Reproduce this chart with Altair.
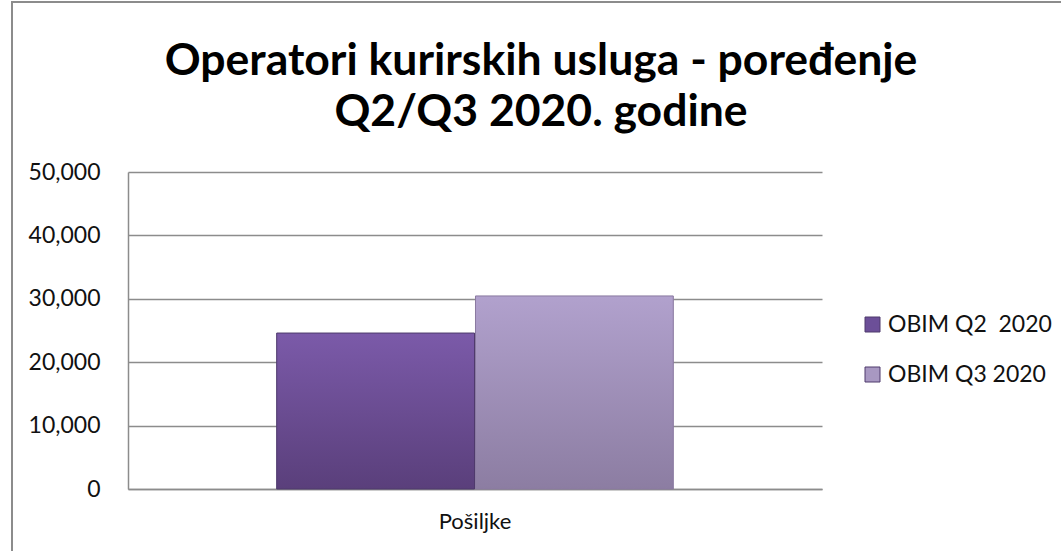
import altair as alt
import pandas as pd

title_lines = ["Operatori kurirskih usluga - poređenje", "Q2/Q3 2020. godine"]
categories = ["Pošiljke", "Pošiljke"]
series = ["OBIM Q2\u00a0 2020", "OBIM Q3 2020"]
values = [24600, 30450]
colors = ["#6c4f98", "#a898c2"]

df = pd.DataFrame({"cat": categories, "series": series, "value": values})

W, H = 694, 317
FONT = "Lato"

xscale = alt.Scale(paddingInner=0, paddingOuter=0.375)
xoscale = alt.Scale(domain=series, paddingInner=0.005)

x_enc = alt.X("cat:N", title=None, scale=xscale,
              axis=alt.Axis(labelAngle=0, labelFontSize=22, labelColor="#111111",
                            labelPadding=22, domainColor="#8c8c8c", domainWidth=1.5,
                            ticks=False, labelFont=FONT))
y_enc = alt.Y("value:Q", title=None,
              scale=alt.Scale(domain=[0, 50000]),
              axis=alt.Axis(values=[0, 10000, 20000, 30000, 40000, 50000], format=",d",
                            labelFontSize=23, labelColor="#111111", labelPadding=28,
                            ticks=False, domainColor="#8c8c8c", domainWidth=1.5,
                            gridColor="#8c8c8c", gridWidth=1.5, labelFont=FONT))

base = alt.Chart(df).mark_bar().encode(
    x=x_enc,
    xOffset=alt.XOffset("series:N", sort=series, scale=xoscale),
    y=y_enc,
    color=alt.Color("series:N", sort=series, title=None,
                    scale=alt.Scale(domain=series, range=colors),
                    legend=alt.Legend(orient="none", legendX=733, legendY=141, padding=0,
                                      symbolType="square", symbolSize=225,
                                      labelFontSize=23, labelColor="#111111",
                                      labelFont=FONT, rowPadding=26, labelOffset=4,
                                      labelLimit=300,
                                      symbolStrokeColor="#4e3a6c", symbolStrokeWidth=1)),
)

def grad(top, bottom):
    return alt.Gradient(gradient="linear", x1=0, x2=0, y1=0, y2=1,
                        stops=[alt.GradientStop(color=top, offset=0),
                               alt.GradientStop(color=bottom, offset=1)])

def overlay(i, top, bottom, stroke):
    return alt.Chart(df[df.series == series[i]]).mark_bar(
        fill=grad(top, bottom), stroke=stroke, strokeWidth=1
    ).encode(x=alt.X("cat:N", scale=xscale),
             xOffset=alt.XOffset("series:N", sort=series, scale=xoscale),
             y="value:Q")

q2 = overlay(0, "#7b5aa9", "#5a3f7b", "#4e3a6c")
q3 = overlay(1, "#b1a1cd", "#8c7da2", "#8a7aa0")

border = alt.Chart(pd.DataFrame({"a": [0]})).mark_rect(
    fill=None, stroke="#8c8c8c", strokeWidth=2
).encode(x=alt.value(-116), x2=alt.value(960), y=alt.value(-170), y2=alt.value(420))

def title_text(i, ypix):
    return alt.Chart(pd.DataFrame({"t": [title_lines[i]]})).mark_text(
        font=FONT, fontSize=44.5, fontWeight="bold", color="#000000",
        align="center", baseline="alphabetic"
    ).encode(text="t:N", x=alt.value(413), y=alt.value(ypix))

t1 = title_text(0, -97)
t2 = title_text(1, -46)

chart = alt.layer(border, base, q2, q3, t1, t2).properties(
    width=W, height=H,
    autosize=alt.AutoSizeParams(type="none"),
    padding={"left": 128, "top": 172, "right": 239, "bottom": 62},
).configure(background="white").configure_view(strokeWidth=0)

chart.save("out.html", embed_options={"renderer": "svg", "actions": False})
